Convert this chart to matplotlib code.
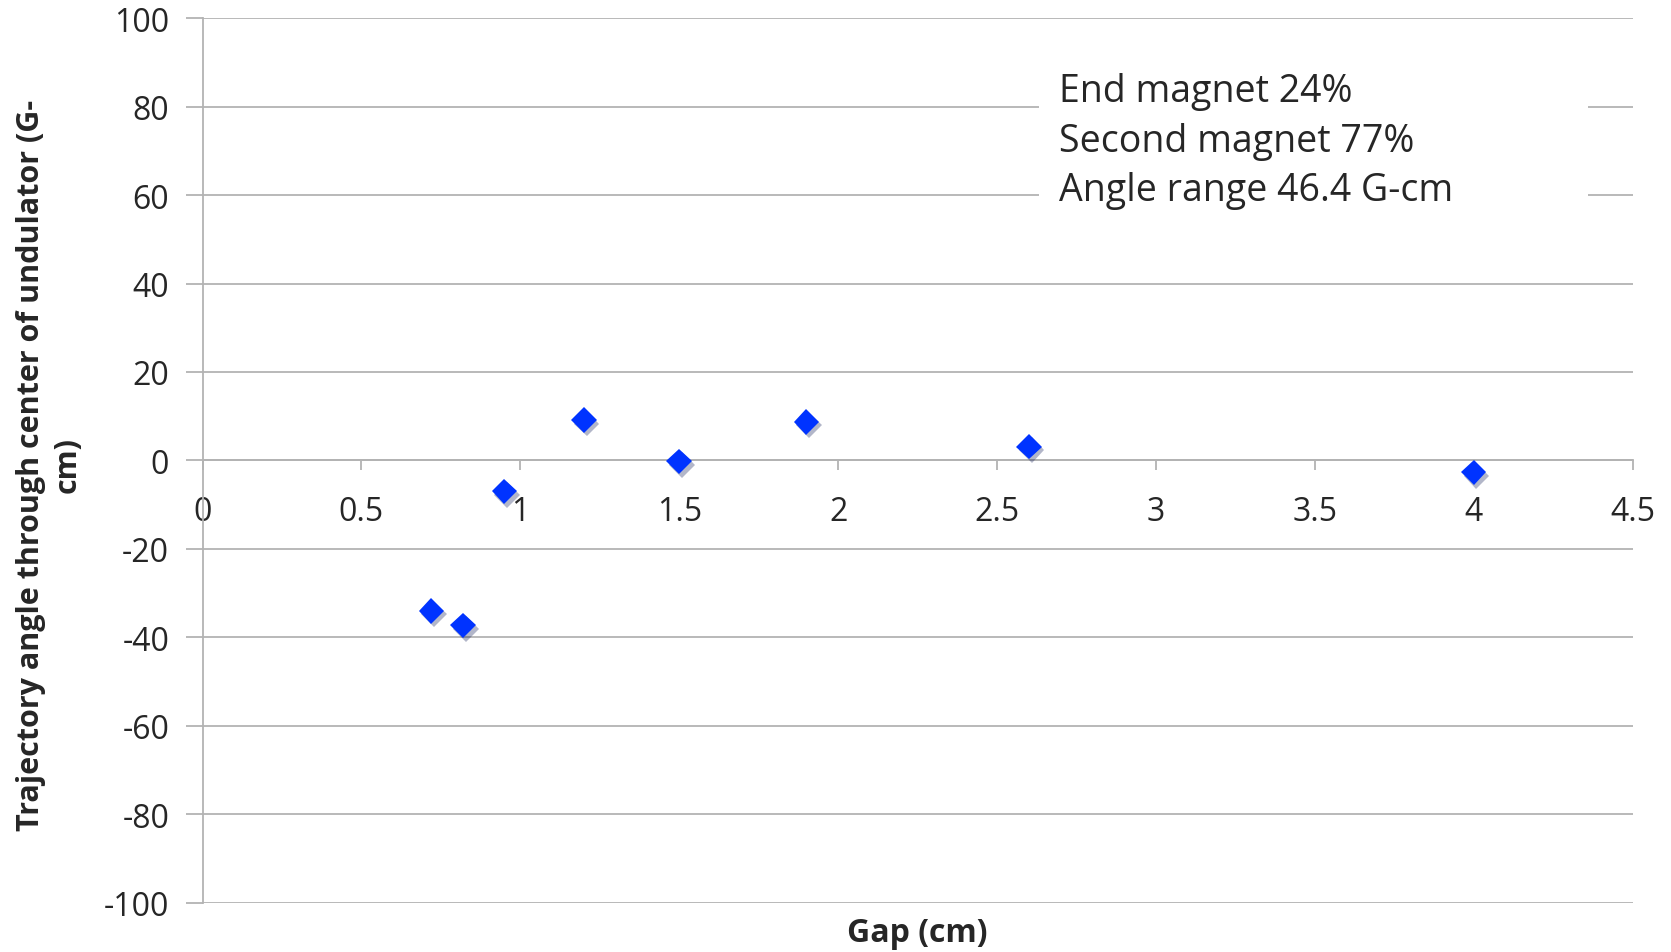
import numpy as np
import matplotlib
matplotlib.use("Agg")
import matplotlib.pyplot as plt
import matplotlib.patheffects as pe
from matplotlib.patches import Rectangle

plt.rcParams['font.family'] = ['Open Sans', 'DejaVu Sans']
plt.rcParams['axes.unicode_minus'] = False

# data
gap_cm = [0.72, 0.82, 0.95, 1.20, 1.50, 1.90, 2.60, 4.00]
angle = [-34.0, -37.3, -7.0, 9.1, -0.2, 8.7, 3.1, -2.7]

x_ticks = [0, 0.5, 1, 1.5, 2, 2.5, 3, 3.5, 4, 4.5]
x_tick_labels = ["0", "0.5", "1", "1.5", "2", "2.5", "3", "3.5", "4", "4.5"]
y_ticks = [-100, -80, -60, -40, -20, 0, 20, 40, 60, 80, 100]

note_lines = ["End magnet 24%", "Second magnet 77%", "Angle range 46.4 G-cm"]

grid_col = "#b3b3b3"
text_col = "#262626"

fig = plt.figure(figsize=(16.71, 9.53), dpi=100)
ax = fig.add_axes([0.1212, 0.0517, 0.8558, 0.9282])

ax.set_xlim(0, 4.5)
ax.set_ylim(-100, 100)

# gridlines
for yv in y_ticks:
    ax.axhline(yv, color=grid_col, lw=1.3, zorder=1)

ax.spines['top'].set_visible(False)
ax.spines['right'].set_visible(False)
ax.spines['bottom'].set_position(('data', 0))
ax.spines['bottom'].set_color(grid_col)
ax.spines['left'].set_color(grid_col)
ax.spines['bottom'].set_linewidth(1.3)
ax.spines['left'].set_linewidth(1.3)

ax.set_xticks(x_ticks)
ax.set_xticklabels(x_tick_labels)
ax.set_yticks(y_ticks)
ax.tick_params(axis='x', direction='out', length=7, width=1.3, color=grid_col,
               labelsize=23, labelcolor=text_col, pad=18)
ax.tick_params(axis='y', direction='out', length=12, width=1.3, color=grid_col,
               labelsize=23, labelcolor=text_col, pad=12)

ax.plot(gap_cm, angle, linestyle='none', marker='D', markersize=13,
        color='#0033ff', markeredgewidth=0, zorder=5,
        path_effects=[pe.SimplePatchShadow(offset=(2, -2.5), alpha=0.3), pe.Normal()])

# white box behind the note
ax.add_patch(Rectangle((2.632, 52), 4.36 - 2.632, 44, facecolor='white',
                       edgecolor='none', zorder=2))
ax.text(0.599, 0.8615, "\n".join(note_lines), transform=ax.transAxes,
        fontsize=27, color=text_col, va='center', ha='left', linespacing=1.4,
        zorder=6)

fig.text(0.549, 0.0204, "Gap (cm)", fontsize=23, fontweight='bold',
         color=text_col, ha='center', va='center')
fig.text(0.0294, 0.512, "Trajectory angle through center of undulator (G-\ncm)",
         fontsize=22, fontweight='bold', color=text_col, ha='center',
         va='center', rotation=90, multialignment='center', linespacing=1.3)

fig.savefig("out.png", dpi=100)
